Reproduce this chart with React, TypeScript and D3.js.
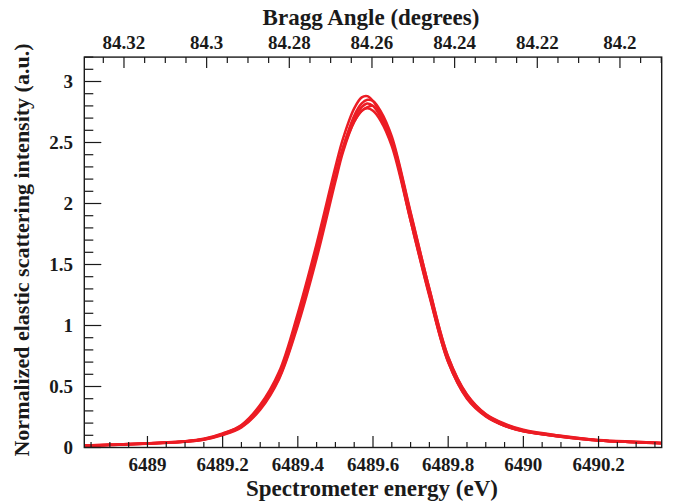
import React from "react";
import * as d3 from "d3";

// Energy grid (eV) shared by all scans
const ENERGY = [
  6488.83, 6488.9, 6489.0, 6489.1, 6489.15, 6489.2, 6489.25, 6489.3, 6489.35, 6489.4,
  6489.45, 6489.5, 6489.52, 6489.55, 6489.57, 6489.585, 6489.6, 6489.62, 6489.65, 6489.7,
  6489.75, 6489.8, 6489.85, 6489.9, 6489.95, 6490.0, 6490.1, 6490.2, 6490.3, 6490.37,
];

// Normalized intensity of each scan
const SCAN_A = [0.016, 0.023, 0.034, 0.052, 0.072, 0.115, 0.185, 0.35, 0.62, 1.10, 1.67, 2.30, 2.53, 2.78, 2.87, 2.88, 2.84, 2.74, 2.51, 1.86, 1.24, 0.70, 0.40, 0.255, 0.178, 0.133, 0.088, 0.057, 0.043, 0.034];
const SCAN_B = [0.014, 0.021, 0.032, 0.049, 0.066, 0.106, 0.17, 0.32, 0.57, 1.02, 1.58, 2.21, 2.45, 2.72, 2.82, 2.85, 2.84, 2.76, 2.55, 1.93, 1.30, 0.74, 0.43, 0.27, 0.19, 0.14, 0.094, 0.060, 0.046, 0.036];
const SCAN_C = [0.015, 0.022, 0.033, 0.05, 0.068, 0.11, 0.175, 0.33, 0.59, 1.05, 1.61, 2.23, 2.46, 2.70, 2.79, 2.82, 2.80, 2.71, 2.50, 1.88, 1.26, 0.71, 0.41, 0.26, 0.18, 0.135, 0.09, 0.058, 0.044, 0.035];
const SCAN_D = [0.013, 0.020, 0.031, 0.047, 0.064, 0.102, 0.165, 0.31, 0.56, 1.00, 1.55, 2.18, 2.42, 2.67, 2.76, 2.79, 2.80, 2.73, 2.53, 1.92, 1.30, 0.745, 0.435, 0.275, 0.195, 0.145, 0.096, 0.062, 0.047, 0.037];
const SCAN_E = [0.016, 0.023, 0.034, 0.051, 0.07, 0.112, 0.18, 0.34, 0.60, 1.06, 1.62, 2.22, 2.44, 2.67, 2.76, 2.78, 2.76, 2.68, 2.47, 1.86, 1.25, 0.70, 0.405, 0.258, 0.178, 0.133, 0.089, 0.057, 0.043, 0.034];
const SCANS = [SCAN_A, SCAN_B, SCAN_C, SCAN_D, SCAN_E];

// Axis ticks
const ENERGY_MAJOR = [6489, 6489.2, 6489.4, 6489.6, 6489.8, 6490, 6490.2];
const ANGLE_MAJOR = [84.32, 84.3, 84.28, 84.26, 84.24, 84.22, 84.2];
const INTENSITY_MAJOR = [0, 0.5, 1, 1.5, 2, 2.5, 3];

const ENERGY_DOMAIN = [6488.832, 6490.368];
const ANGLE_DOMAIN = [84.3296, 84.1899];
const INTENSITY_DOMAIN = [0, 3.2];

const W = 675;
const H = 502;
const L = 84.3;
const R = 661.7;
const T = 57.1;
const B = 447.5;
const RED = "#ec1c24";
const FONT = "'Liberation Serif', 'Times New Roman', serif";

function range(a: number, b: number, step: number) {
  const out: number[] = [];
  const n0 = Math.ceil(a / step - 1e-9);
  const n1 = Math.floor(b / step + 1e-9);
  for (let n = n0; n <= n1; n++) out.push(+(n * step).toFixed(6));
  return out;
}

export default function App() {
  const x = d3.scaleLinear().domain(ENERGY_DOMAIN).range([L, R]);
  const xt = d3.scaleLinear().domain(ANGLE_DOMAIN).range([L, R]);
  const y = d3.scaleLinear().domain(INTENSITY_DOMAIN).range([B, T]);

  const line = d3
    .line<number>()
    .x((_, i) => x(ENERGY[i]))
    .y((d) => y(d))
    .curve(d3.curveCatmullRom.alpha(0.5));

  const eMinor = range(ENERGY_DOMAIN[0], ENERGY_DOMAIN[1], 0.05);
  const aMinor = range(ANGLE_DOMAIN[1], ANGLE_DOMAIN[0], 0.005);
  const iMinor = range(INTENSITY_DOMAIN[0], INTENSITY_DOMAIN[1], 0.1);
  const isMajor = (v: number, majors: number[]) => majors.some((m) => Math.abs(m - v) < 1e-6);
  const fmt = (v: number) => String(+v.toFixed(4));

  return (
    <svg width={W} height={H} style={{ position: "absolute", left: 0, top: 0, background: "#fff" }} fontFamily={FONT}>
      <defs>
        <clipPath id="plot">
          <rect x={L} y={T} width={R - L} height={B - T} />
        </clipPath>
      </defs>
      <rect width={W} height={H} fill="#fff" />
      <g clipPath="url(#plot)">
        {SCANS.map((s, k) => (
          <path key={k} d={line(s) || ""} fill="none" stroke={RED} strokeWidth={2.5} strokeLinejoin="round" />
        ))}
      </g>
      {/* ticks */}
      <g stroke="#1a1a1a" strokeWidth={1.2}>
        {eMinor.map((v) => {
          const len = isMajor(v, ENERGY_MAJOR) ? 11.5 : 5.5;
          return <line key={"e" + v} x1={x(v)} x2={x(v)} y1={B} y2={B - len} />;
        })}
        {aMinor.map((v) => {
          const len = isMajor(v, ANGLE_MAJOR) ? 11 : 6;
          return <line key={"a" + v} x1={xt(v)} x2={xt(v)} y1={T} y2={T + len} />;
        })}
        {iMinor.map((v) => {
          const len = isMajor(v, INTENSITY_MAJOR) ? 17 : 9;
          return <line key={"i" + v} x1={L} x2={L + len} y1={y(v)} y2={y(v)} />;
        })}
      </g>
      <rect x={L} y={T} width={R - L} height={B - T} fill="none" stroke="#1a1a1a" strokeWidth={1.4} />
      {/* tick labels */}
      <g fontWeight="bold" fontSize={19} fill="#1a1a1a">
        {ENERGY_MAJOR.map((v) => (
          <text key={"el" + v} x={x(v)} y={471} textAnchor="middle">{fmt(v)}</text>
        ))}
        {ANGLE_MAJOR.map((v) => (
          <text key={"al" + v} x={xt(v)} y={49} textAnchor="middle">{fmt(v)}</text>
        ))}
        {INTENSITY_MAJOR.map((v) => (
          <text key={"il" + v} x={73} y={y(v)} dy="0.35em" textAnchor="end">{fmt(v)}</text>
        ))}
      </g>
      {/* titles */}
      <g fontWeight="bold" fontSize={23} fill="#1a1a1a">
        <text x={372} y={496} textAnchor="middle">Spectrometer energy (eV)</text>
        <text x={371} y={25} textAnchor="middle">Bragg Angle (degrees)</text>
        <text transform={`translate(29, 250) rotate(-90)`} textAnchor="middle" fontSize={22}>Normalized elastic scattering intensity (a.u.)</text>
      </g>
    </svg>
  );
}
